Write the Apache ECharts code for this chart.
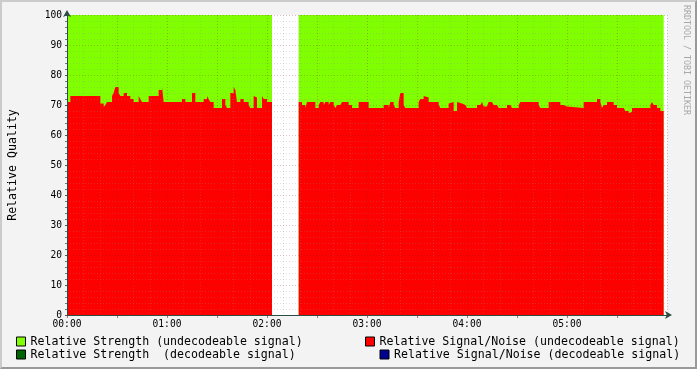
<!DOCTYPE html>
<html>
<head>
<meta charset="utf-8">
<script src="https://cdn.jsdelivr.net/npm/echarts@6/dist/echarts.min.js"></script>
<style>
html,body{margin:0;padding:0;background:#F3F3F3;}
#frame{width:697px;height:369px;box-sizing:border-box;border-style:solid;border-width:2px;border-color:#CBCBCB #999999 #999999 #CBCBCB;background:#F3F3F3;}
#chart{width:693px;height:365px;}
</style>
</head>
<body>
<div id="frame"><div id="chart"></div></div>
<script>
// Time axis in minutes from 00:00
const xMin = 0, xMax = 360, xMajor = 30;
const yMin = 0, yMax = 100, yMajor = 10;

// Series names
const nameStrengthU = 'Relative Strength (undecodeable signal)';
const nameSnrU = 'Relative Signal/Noise (undecodeable signal)';
const nameStrengthD = 'Relative Strength  (decodeable signal)';
const nameSnrD = 'Relative Signal/Noise (decodeable signal)';

// Relative Strength (undecodeable): step start minutes and values (null = no data)
const strengthStart = [0, 123, 139, 358];
const strengthValue = [100, null, 100, null];

// Relative Signal/Noise (undecodeable): step start minutes and values (null = no data)
const snrStart = [0,2,20,22,23,24,27,28,29,31,32,34,36,38,40,43,44,45,49,55,57,58,69,71,75,77,82,84,85,86,88,93,95,96,98,100,101,102,104,106,109,110,112,113,114,117,118,120,123,
  139,141,143,144,149,151,152,154,155,157,158,160,161,162,164,165,169,171,175,181,190,193,194,196,197,199,200,202,203,211,212,214,215,217,223,224,229,230,232,234,235,237,239,240,
  246,248,249,250,252,253,255,256,258,259,264,266,267,271,272,283,284,289,296,298,300,310,318,320,321,322,324,328,330,334,335,337,338,339,350,351,352,354,356,358];
const snrValue = [71,73,70.5,69.3,70,71,73,74,76,74,73,74,73,72,71,73,72,71,73,75,76,71,72,71,74,71,72,73,72,71,69,72,70,69,74,76,75,71,72,71,70,69,73,72.5,69,73,72,71,null,
  71,70,69,71,69,70,71,70,71,70,71,70,69,70,70.5,71,70,69,71,69,70,69,71,70,69,71,74,70,69,71,72,73,72.5,71,70,69,70.5,71,68,71,70.5,70,69.5,69,
  70,70.5,71,69.5,69,71,70.7,70,69.5,69,70,69.5,69,70,71,70,69,71,70,69.5,69,71,72,71,69,70,71,70,69,68.5,68,67.3,67.7,69,70,71,70,69,68,null];

// Decodeable series: no data in this period
const strengthDValue = [];
const snrDValue = [];

function stepData(starts, values) {
  const out = [];
  for (let i = 0; i < starts.length; i++) {
    if (values[i] === null && i > 0 && values[i - 1] !== null) {
      out.push([starts[i], values[i - 1]]);
    }
    out.push([starts[i], values[i]]);
  }
  return out;
}

function hhmm(v) {
  const h = Math.floor(v / 60), m = v % 60;
  return String(h).padStart(2, '0') + ':' + String(m).padStart(2, '0');
}

const mono = 'DejaVu Sans Mono';
const minorGrid = 'rgba(140,140,140,0.27)';
const majorGrid = 'rgba(130,30,30,0.27)';
const axisColor = '#2C4D43';

function legendAt(name, left, top) {
  return {
    data: [name], left: left, top: top, padding: 0, orient: 'horizontal',
    itemWidth: 9, itemHeight: 9, icon: 'rect', selectedMode: false,
    itemStyle: { borderColor: '#000', borderWidth: 1 },
    textStyle: { fontFamily: mono, fontSize: 11.6, color: '#000', lineHeight: 14, padding: [0,0,0,0] }
  };
}

const chart = echarts.init(document.getElementById('chart'), null, { renderer: 'canvas' });
chart.setOption({
  animation: false,
  backgroundColor: '#F3F3F3',
  grid: { left: 65, top: 13, width: 600, height: 300, show: true, backgroundColor: '#FFFFFF', borderWidth: 0,
    containLabel: false, outerBoundsMode: 'none' },
  xAxis: {
    type: 'value', min: xMin, max: xMax, interval: xMajor, z: 5,
    axisLine: { show: true, onZero: false, lineStyle: { color: axisColor, width: 1 }, symbol: ['none', 'arrow'], symbolSize: [6, 7], symbolOffset: [0, 5] },
    axisTick: { show: true, length: 3, inside: false, lineStyle: { color: 'rgba(130,30,30,0.6)' } },
    axisLabel: { fontFamily: mono, fontSize: 9.6, color: '#000', margin: 4, showMaxLabel: false,
      formatter: v => (v % 60 === 0 && v < xMax) ? hhmm(v) : '' },
    splitLine: { show: true, lineStyle: { color: majorGrid, type: [1, 2], width: 1 } },
    minorTick: { show: false, splitNumber: 3 },
    minorSplitLine: { show: true, lineStyle: { color: minorGrid, type: [1, 2], width: 1 } }
  },
  yAxis: {
    type: 'value', min: yMin, max: yMax, interval: yMajor, z: 5,
    name: 'Relative Quality', nameLocation: 'middle', nameGap: 48,
    nameTextStyle: { fontFamily: mono, fontSize: 11.6, color: '#000' },
    axisLine: { show: true, lineStyle: { color: axisColor, width: 1 }, symbol: ['none', 'arrow'], symbolSize: [6, 7], symbolOffset: [0, 5] },
    axisTick: { show: true, length: 2, lineStyle: { color: '#555' } },
    axisLabel: { fontFamily: mono, fontSize: 9.6, color: '#000', margin: 5 },
    splitLine: { show: true, lineStyle: { color: majorGrid, type: [1, 2], width: 1 } },
    minorTick: { show: true, splitNumber: 5, length: 2, lineStyle: { color: '#777' } },
    minorSplitLine: { show: true, lineStyle: { color: minorGrid, type: [1, 2], width: 1 } }
  },
  legend: [
    legendAt(nameStrengthU, 14, 332.5),
    legendAt(nameSnrU, 363, 332.5),
    legendAt(nameStrengthD, 14, 345.5),
    legendAt(nameSnrD, 377.5, 345.5)
  ],
  graphic: [{
    type: 'text', x: 684.5, y: 58, rotation: -Math.PI / 2,
    style: { text: 'RRDTOOL / TOBI OETIKER', fontFamily: mono, fontSize: 8.3, fill: '#A8A8A8', align: 'center', verticalAlign: 'middle' }
  }],
  series: [
    { name: nameStrengthU, type: 'line', step: 'end', z: 1, symbol: 'none', silent: true,
      color: '#7FFF00', lineStyle: { width: 0 }, areaStyle: { color: '#7FFF00', opacity: 1 },
      data: stepData(strengthStart, strengthValue) },
    { name: nameSnrU, type: 'line', step: 'end', z: 2, symbol: 'none', silent: true,
      color: '#FF0000', lineStyle: { width: 0 }, areaStyle: { color: '#FF0000', opacity: 1 },
      data: stepData(snrStart, snrValue) },
    { name: nameStrengthD, type: 'line', step: 'end', z: 2, symbol: 'none', color: '#006400',
      areaStyle: { color: '#006400', opacity: 1 }, data: strengthDValue },
    { name: nameSnrD, type: 'line', step: 'end', z: 2, symbol: 'none', color: '#000090',
      areaStyle: { color: '#000090', opacity: 1 }, data: snrDValue }
  ]
});
</script>
</body>
</html>
